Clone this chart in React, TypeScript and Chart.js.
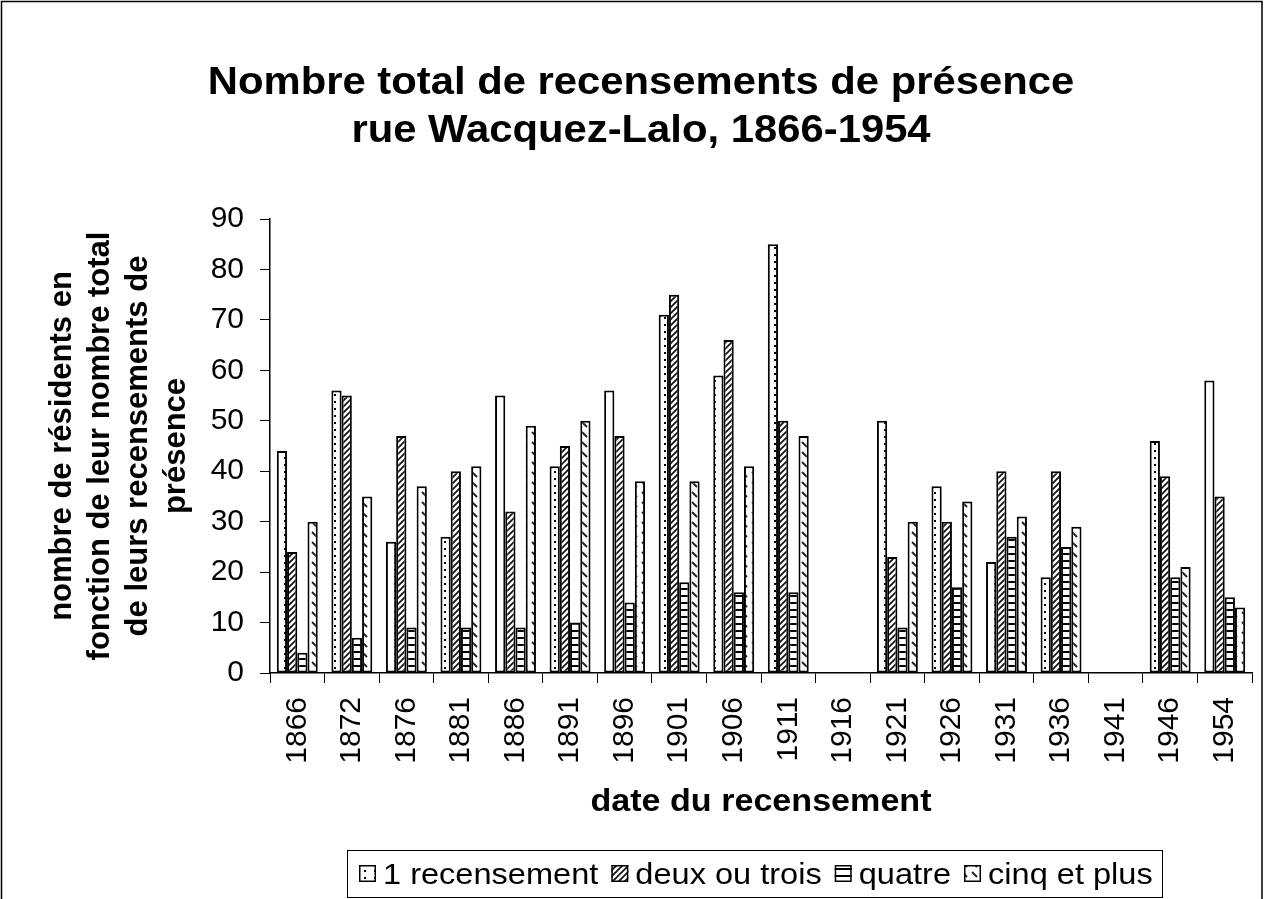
import React, { useEffect, useRef } from 'react';
import { Chart, registerables } from 'chart.js';

Chart.register(...registerables);

// ---------- data ----------
const YEARS = ['1866', '1872', '1876', '1881', '1886', '1891', '1896', '1901', '1906', '1911', '1916', '1921', '1926', '1931', '1936', '1941', '1946', '1954'];
const SERIES_LABELS = ['1 recensement', 'deux ou trois', 'quatre', 'cinq et plus'];
const ONE_CENSUS = [44, 56, 26, 27, 55, 41, 56, 71, 59, 85, null, 50, 37, 22, 19, null, 46, 58];
const TWO_OR_THREE = [24, 55, 47, 40, 32, 45, 47, 75, 66, 50, null, 23, 30, 40, 40, null, 39, 35];
const FOUR = [4, 7, 9, 9, 9, 10, 14, 18, 16, 16, null, 9, 17, 27, 25, null, 19, 15];
const FIVE_PLUS = [30, 35, 37, 41, 49, 50, 38, 38, 41, 47, null, 30, 34, 31, 29, null, 21, 13];
const Y_MIN = 0;
const Y_MAX = 90;
const Y_STEP = 10;
const TITLE_LINES = ['Nombre total de recensements de présence', 'rue Wacquez-Lalo, 1866-1954'];
const Y_TITLE_LINES = ['nombre de résidents en', 'fonction de leur nombre total', 'de leurs recensements de', 'présence'];
const X_TITLE = 'date du recensement';

const FONT = '"Liberation Sans", Arial, Helvetica, sans-serif';
const W = 1264;
const H = 899;
const SX = 1.1; // horizontal stretch of horizontal texts

type Kind = 'dots' | 'hatch' | 'hlines' | 'dashes';
const KINDS: Kind[] = ['dots', 'hatch', 'hlines', 'dashes'];

function makePattern(kind: Kind): CanvasPattern | string {
  const c = document.createElement('canvas');
  let w = 8, h = 8;
  if (kind === 'dots') { w = 10; h = 7; }
  if (kind === 'hatch') { w = 6; h = 6; }
  if (kind === 'hlines') { w = 4; h = 7; }
  if (kind === 'dashes') { w = 10; h = 10; }
  c.width = w; c.height = h;
  const ctx = c.getContext('2d');
  if (!ctx) return '#fff';
  ctx.fillStyle = '#fff';
  ctx.fillRect(0, 0, w, h);
  ctx.fillStyle = '#000';
  ctx.strokeStyle = '#000';
  if (kind === 'dots') {
    ctx.fillRect(4, 2, 2, 2);
  } else if (kind === 'hatch') {
    ctx.strokeStyle = '#111';
    ctx.lineWidth = 1.7;
    ctx.beginPath();
    ctx.moveTo(-1, h + 1); ctx.lineTo(w + 1, -1);
    ctx.moveTo(-1, 1); ctx.lineTo(1, -1);
    ctx.moveTo(w - 1, h + 1); ctx.lineTo(w + 1, h - 1);
    ctx.stroke();
  } else if (kind === 'hlines') {
    ctx.fillRect(0, 0, w, 2);
  } else if (kind === 'dashes') {
    ctx.strokeStyle = '#222';
    ctx.lineWidth = 2;
    ctx.beginPath();
    ctx.moveTo(2, 2); ctx.lineTo(7, 7);
    ctx.stroke();
  }
  const p = ctx.createPattern(c, 'repeat');
  return p || '#fff';
}

function stretchedText(ctx: CanvasRenderingContext2D, text: string, x: number, y: number, align: 'left' | 'center') {
  ctx.save();
  ctx.translate(x, y);
  ctx.scale(SX, 1);
  ctx.textAlign = align;
  ctx.textBaseline = 'alphabetic';
  ctx.fillText(text, 0, 0);
  ctx.restore();
}

export default function App() {
  const ref = useRef<HTMLCanvasElement | null>(null);

  useEffect(() => {
    document.body.style.margin = '0';
    const canvas = ref.current;
    if (!canvas) return;
    const patterns = KINDS.map(makePattern);
    const seriesData = [ONE_CENSUS, TWO_OR_THREE, FOUR, FIVE_PLUS];

    const decor = {
      id: 'decor',
      afterDraw(chart: any) {
        const ctx: CanvasRenderingContext2D = chart.ctx;
        const area = chart.chartArea;
        ctx.save();
        // outer frame
        ctx.strokeStyle = '#000';
        ctx.lineWidth = 1.5;
        ctx.beginPath();
        ctx.moveTo(1.5, H);
        ctx.lineTo(1.5, 1.5);
        ctx.lineTo(1262, 1.5);
        ctx.lineTo(1262, H);
        ctx.stroke();

        ctx.fillStyle = '#000';
        // title
        ctx.font = `bold 38px ${FONT}`;
        stretchedText(ctx, TITLE_LINES[0], 641, 94, 'center');
        stretchedText(ctx, TITLE_LINES[1], 641, 142, 'center');

        // y title (rotated)
        ctx.font = `bold 31px ${FONT}`;
        const yc = (area.top + area.bottom) / 2;
        const lineX = [71, 109, 147, 185];
        Y_TITLE_LINES.forEach((line, i) => {
          ctx.save();
          ctx.translate(lineX[i], yc);
          ctx.rotate(-Math.PI / 2);
          ctx.textAlign = 'center';
          ctx.textBaseline = 'alphabetic';
          ctx.fillText(line, 0, 0);
          ctx.restore();
        });

        // x title
        ctx.font = `bold 31px ${FONT}`;
        stretchedText(ctx, X_TITLE, (area.left + area.right) / 2, 811, 'center');

        // legend
        const bx = 347.5, by = 850.5, bw = 815, bh = 47;
        ctx.lineWidth = 1;
        ctx.strokeStyle = '#000';
        ctx.strokeRect(bx, by, bw, bh);
        ctx.font = `29.6px ${FONT}`;
        let x = 359;
        const icon = 17;
        const iy = 865;
        SERIES_LABELS.forEach((lab, i) => {
          ctx.fillStyle = patterns[i] as any;
          ctx.fillRect(x, iy, icon, icon);
          ctx.lineWidth = 1.5;
          ctx.strokeStyle = '#000';
          ctx.strokeRect(x + 0.75, iy + 0.75, icon - 1.5, icon - 1.5);
          ctx.fillStyle = '#000';
          const tx = x + icon + 7;
          stretchedText(ctx, lab, tx, 884, 'left');
          const tw = ctx.measureText(lab).width * SX;
          x = tx + tw + 13;
        });
        ctx.restore();
      },
    };

    const chart = new Chart(canvas, {
      type: 'bar',
      data: {
        labels: YEARS,
        datasets: SERIES_LABELS.map((label, i) => ({
          label,
          data: seriesData[i],
          backgroundColor: patterns[i] as any,
          borderColor: '#000',
          borderWidth: 2,
          borderSkipped: false,
          categoryPercentage: 0.75,
          barPercentage: 1.0,
        })),
      },
      options: {
        responsive: false,
        animation: false,
        devicePixelRatio: 1,
        layout: { padding: { left: 0, right: 12, top: 219, bottom: 0 } },
        plugins: {
          legend: { display: false },
          title: { display: false },
          tooltip: { enabled: false },
        },
        font: { family: FONT },
        scales: {
          x: {
            grid: { display: true, drawOnChartArea: false, drawTicks: true, tickLength: 10, color: '#000', lineWidth: 1, offset: true },
            border: { display: true, color: '#000', width: 1.5 },
            ticks: { color: '#000', font: { size: 30, family: FONT }, minRotation: 90, maxRotation: 90, padding: 14, autoSkip: false },
            afterFit: (s: any) => { s.height = 226; s.paddingLeft = 0; s.paddingRight = 0; },
          },
          y: {
            min: Y_MIN,
            max: Y_MAX,
            ticks: { stepSize: Y_STEP, color: '#000', font: { size: 30, family: FONT }, padding: 16 },
            grid: { drawOnChartArea: false, drawTicks: true, tickLength: 10, color: '#000' },
            border: { display: true, color: '#000', width: 1.5 },
            afterFit: (s: any) => { s.width = 270; s.paddingTop = 0; s.paddingBottom = 0; },
          },
        },
      } as any,
      plugins: [decor],
    });
    return () => chart.destroy();
  }, []);

  return (
    <canvas ref={ref} width={W} height={H} style={{ display: 'block', width: W, height: H }} />
  );
}
